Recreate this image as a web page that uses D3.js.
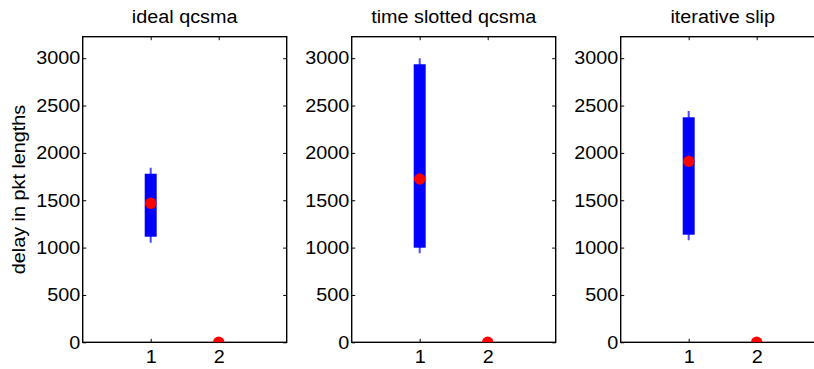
<!DOCTYPE html>
<html>
<head>
<meta charset="utf-8">
<script src="https://cdn.jsdelivr.net/npm/d3@7"></script>
<style>
	html, body { margin: 0; padding: 0; background: #fff; }
	svg text { font-family: 'Liberation Sans', Arial, sans-serif; fill: #000; }
</style>
</head>
<body>
<svg id="main-vis" width="814" height="369"></svg>
<script>
// DATA
const titles = ['ideal qcsma', 'time slotted qcsma', 'iterative slip']
const categories = [1, 2]
const yTicks = [0, 500, 1000, 1500, 2000, 2500, 3000]
// PER PANEL, PER CATEGORY
const whiskerHi = [[1844, 0], [3000, 0], [2443, 0]]
const q3 = [[1780, 0], [2936, 0], [2376, 0]]
const medians = [[1468, 0], [1725, 0], [1911, 0]]
const q1 = [[1115, 0], [999, 0], [1136, 0]]
const whiskerLo = [[1052, 0], [940, 0], [1077, 0]]

function DOMLoad () {
	const svg = d3.select('svg#main-vis')
	const top = 36.7
	const bottom = 342.3
	const w = 204
	const lefts = [82.7, 351.7, 620.7]
	const tick = 3.5
	const stretch = 1.1

	const y = d3.scaleLinear().domain([0, 3227]).range([bottom, top])

	titles.forEach((title, p) => {
		const x = d3.scaleLinear().domain([0, 3]).range([lefts[p], lefts[p] + w])
		const g = svg.append('g')

		g.append('clipPath').attr('id', `clip${p}`)
		.append('rect')
		.attr('x', lefts[p]).attr('y', top).attr('width', w).attr('height', bottom - top)

		// AXES (MATLAB STYLE, TICKS INSIDE, BOX ON)
		const axL = g.append('g').attr('transform', `translate(${lefts[p]},0)`)
		.call(d3.axisLeft(y).tickValues(yTicks).tickSize(-tick).tickPadding(2.5).tickFormat(d3.format('d')))
		const axR = g.append('g').attr('transform', `translate(${lefts[p] + w},0)`)
		.call(d3.axisRight(y).tickValues(yTicks).tickSize(-tick).tickFormat(''))
		const axB = g.append('g').attr('transform', `translate(0,${bottom})`)
		.call(d3.axisBottom(x).tickValues(categories).tickSize(-tick).tickPadding(8).tickFormat(d3.format('d')))
		const axT = g.append('g').attr('transform', `translate(0,${top})`)
		.call(d3.axisTop(x).tickValues(categories).tickSize(-tick).tickFormat(''))

		;[axL, axR, axB, axT].forEach(a => {
			a.select('.domain').remove()
			a.selectAll('line').attr('stroke', '#000').attr('stroke-width', 1)
			a.selectAll('text').style('font-size', '18px').attr('fill', '#000')
		})

		g.append('rect')
		.attr('x', lefts[p]).attr('y', top).attr('width', w).attr('height', bottom - top)
		.attr('fill', 'none').attr('stroke', '#000').attr('stroke-width', 1.4)

		// BOXES
		const plot = g.append('g').attr('clip-path', `url(#clip${p})`)
		const bw = 0.176
		categories.forEach((c, i) => {
			plot.append('line')
			.attr('x1', x(c)).attr('x2', x(c))
			.attr('y1', y(whiskerLo[p][i])).attr('y2', y(whiskerHi[p][i]))
			.attr('stroke', '#4a4aff').attr('stroke-width', 2)
			plot.append('rect')
			.attr('x', x(c - bw / 2)).attr('width', x(c + bw / 2) - x(c - bw / 2))
			.attr('y', y(q3[p][i])).attr('height', y(q1[p][i]) - y(q3[p][i]))
			.attr('fill', '#0000ff')
		})
		plot.selectAll('circle.median')
		.data(categories)
		.join('circle')
		.attr('class', 'median')
		.attr('cx', d => x(d))
		.attr('cy', (d, i) => y(medians[p][i]))
		.attr('r', 5.7)
		.attr('fill', '#ff0000')

		// TITLE
		g.append('text')
		.attr('x', lefts[p] + w / 2).attr('y', 22.7)
		.attr('text-anchor', 'middle')
		.style('font-size', '18px')
		.text(title)
	})

	svg.append('text')
	.attr('transform', `translate(24.5,${(top + bottom) / 2}) rotate(-90)`)
	.attr('text-anchor', 'middle')
	.style('font-size', '18px')
	.text('delay in pkt lengths')

	// THE ORIGINAL FONT RUNS A BIT WIDER THAN LIBERATION SANS
	svg.selectAll('text').each(function () {
		if (!this.textContent) return
		const len = this.getComputedTextLength()
		d3.select(this).attr('textLength', len * stretch).attr('lengthAdjust', 'spacingAndGlyphs')
	})
}

if (document.readyState === 'loading') {
	document.addEventListener('DOMContentLoaded', DOMLoad)
} else {
	DOMLoad()
}
</script>
</body>
</html>
